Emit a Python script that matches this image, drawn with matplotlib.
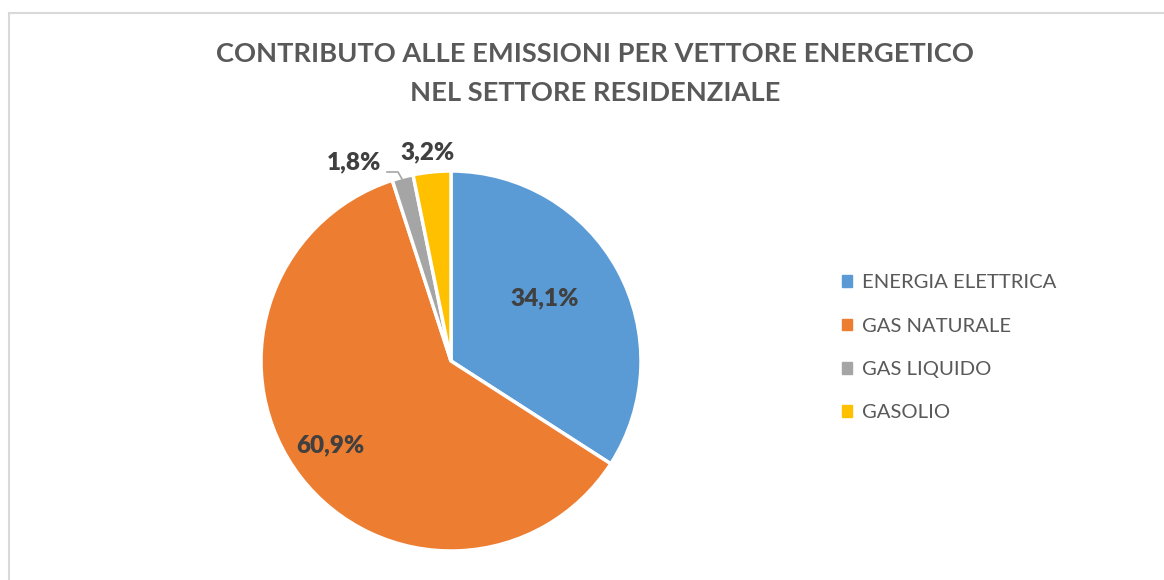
import matplotlib
matplotlib.use("Agg")
import matplotlib.pyplot as plt
import numpy as np

categories = ["ENERGIA ELETTRICA", "GAS NATURALE", "GAS LIQUIDO", "GASOLIO"]
values = [34.1, 60.9, 1.8, 3.2]
labels = ["34,1%", "60,9%", "1,8%", "3,2%"]
colors = ["#5B9BD5", "#ED7D31", "#A5A5A5", "#FFC000"]
title = "CONTRIBUTO ALLE EMISSIONI PER VETTORE ENERGETICO\nNEL SETTORE RESIDENZIALE"

plt.rcParams['font.family'] = ['Lato', 'DejaVu Sans']

W, H = 1164, 580
fig = plt.figure(figsize=(W / 100, H / 100), dpi=100)

# border (chart area)
fig.patches.append(plt.Rectangle((8.5 / W, -0.1), 1.2, (H - 12.5) / H + 0.1,
                                 transform=fig.transFigure, fill=False,
                                 edgecolor="#D9D9D9", linewidth=1.5))

cx, cy, R = 451, 361, 190
ax = fig.add_axes([(cx - R) / W, (H - cy - R) / H, 2 * R / W, 2 * R / H])
wedges, _ = ax.pie(values, colors=colors, startangle=90, counterclock=False,
                   radius=1.0, wedgeprops=dict(edgecolor="white", linewidth=2.5))
ax.set_xlim(-1, 1)
ax.set_ylim(-1, 1)
ax.set_aspect("equal")
ax.axis("off")

# label positions (axes data units, relative to pie center)
label_pos = [(94 / R, 63 / R), (-121 / R, -84 / R), (-97 / R, 199 / R), (-23 / R, 209 / R)]
for lab, (x, y) in zip(labels, label_pos):
    ax.text(x, y, lab, ha="center", va="center", fontsize=17.5, fontweight="heavy",
            color="#404040", clip_on=False)

# leader line for the small GAS LIQUIDO slice
ax.plot([-64 / R, -53 / R, -49 / R], [189 / R, 189 / R, 182 / R],
        color="#A6A6A6", linewidth=1.2, clip_on=False)

fig.text(595 / W, 1 - 73.5 / H, title, ha="center", va="center", fontsize=19.6,
         fontweight="bold", color="#595959", linespacing=1.72)

handles = [plt.Rectangle((0, 0), 1, 1, color=c) for c in colors]
leg = fig.legend(handles, categories, loc="upper left",
                 bbox_to_anchor=(824 / W, 1 - 256 / H), frameon=False,
                 fontsize=14.6, labelcolor="#595959", handlelength=0.5,
                 handleheight=0.5, handletextpad=0.45, labelspacing=1.3)

fig.savefig("out.png", dpi=100, facecolor="white")
